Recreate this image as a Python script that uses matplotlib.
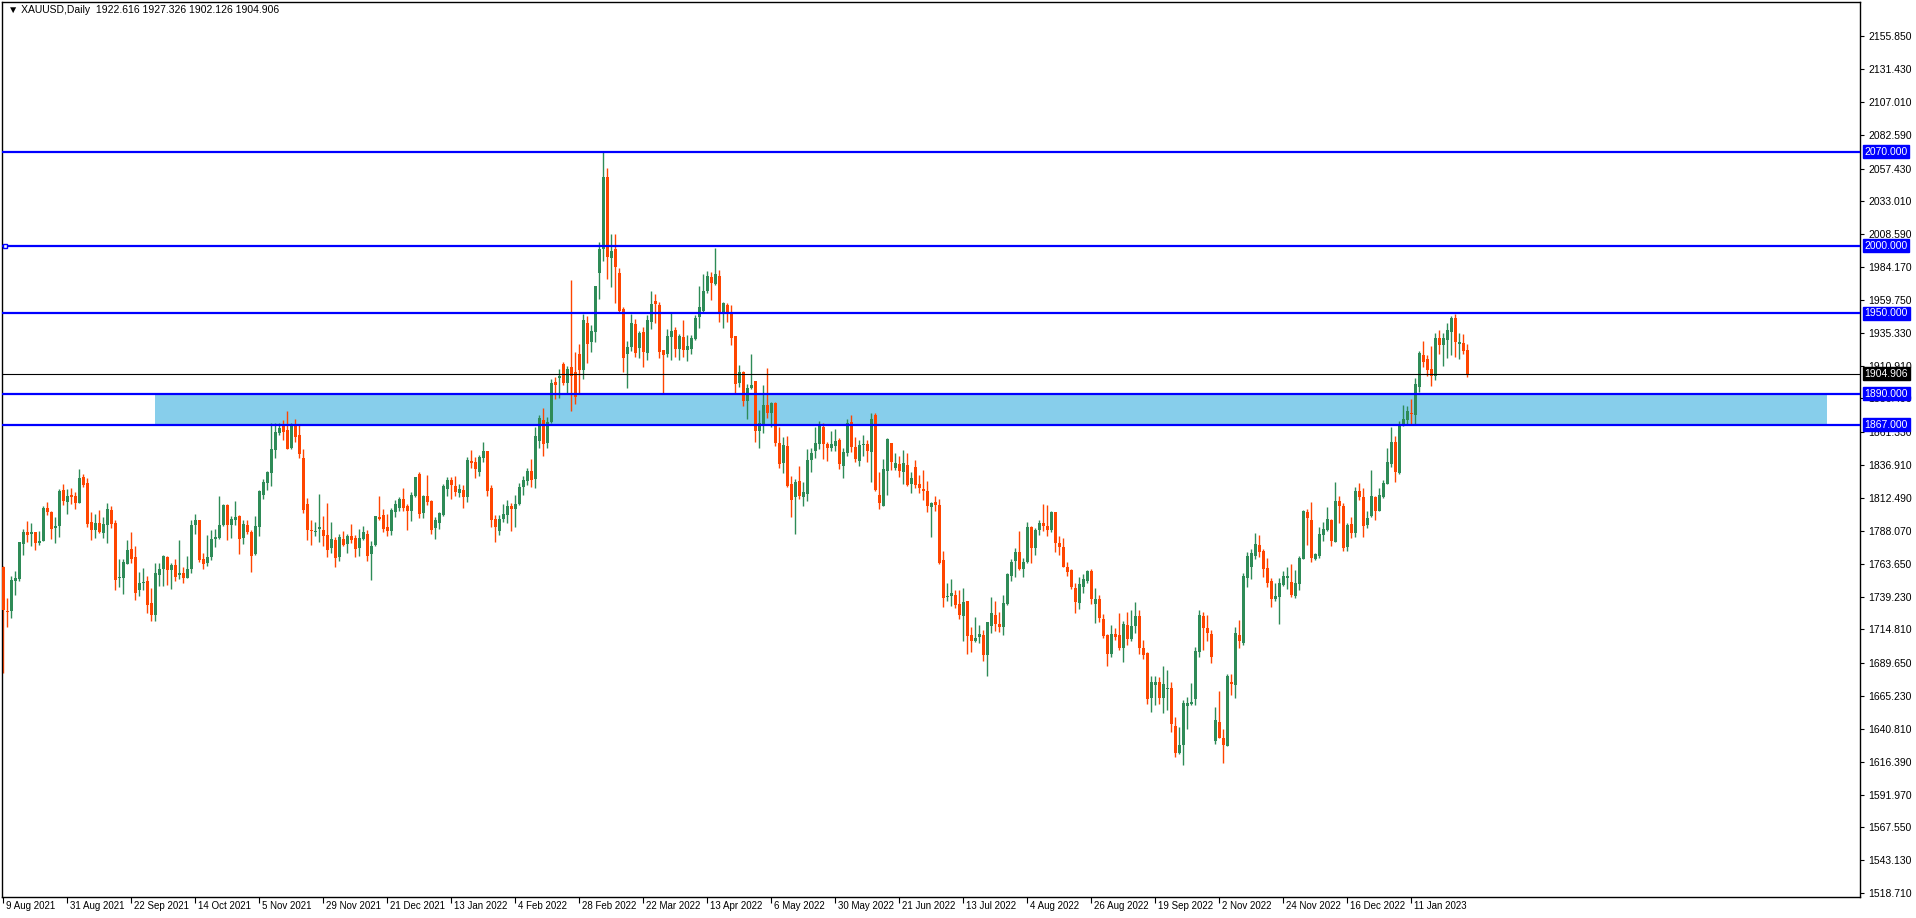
import matplotlib
matplotlib.use("Agg")
import matplotlib.pyplot as plt
from matplotlib.transforms import blended_transform_factory
from matplotlib.patches import Rectangle
import numpy as np

# ---------------- data ----------------
title = "\u25BC XAUUSD,Daily  1922.616 1927.326 1902.126 1904.906"

opens = [
 1761.4,1728.4,1728.7,1751.0,1752.5,1778.5,1787.2,1786.0,1787.2,1779.3,
 1780.7,1805.0,1802.1,1790.4,1791.7,1818.4,1809.8,1814.7,1814.0,1809.0,
 1828.1,1823.6,1794.6,1788.9,1793.9,1786.7,1792.7,1803.6,1793.9,1753.2,
 1753.2,1763.6,1774.5,1768.6,1744.3,1749.3,1750.8,1734.4,1725.7,1755.5,
 1759.7,1768.6,1759.0,1762.7,1755.5,1756.7,1753.2,1759.7,1792.4,1796.1,
 1767.1,1764.4,1768.6,1782.0,1782.7,1792.4,1807.2,1792.4,1796.1,1799.1,
 1782.7,1792.4,1787.2,1770.8,1790.9,1814.7,1823.6,1831.0,1848.1,1860.8,
 1866.7,1863.0,1849.6,1866.7,1859.3,1842.2,1808.0,1788.7,1787.2,1789.4,
 1788.7,1784.9,1775.3,1781.2,1768.6,1782.0,1778.2,1784.2,1782.7,1775.3,
 1782.0,1785.7,1770.8,1777.5,1798.3,1799.8,1790.9,1788.2,1802.0,1805.0,
 1811.7,1806.5,1802.8,1813.9,1830.3,1801.3,1813.9,1810.2,1790.1,1793.9,
 1799.8,1819.1,1825.8,1821.4,1816.2,1818.4,1813.2,1840.0,1839.2,1831.8,
 1842.2,1847.4,1819.9,1796.8,1787.9,1796.8,1799.8,1806.5,1804.3,1808.0,
 1820.6,1825.1,1832.5,1826.6,1854.8,1870.5,1853.4,1869.0,1898.7,1901.7,
 1912.1,1898.0,1909.9,1906.2,1919.6,1907.7,1942.6,1928.5,1936.2,1980.1,
 1997.7,2051.0,1991.2,1997.7,1979.8,1953.0,1919.8,1925.0,1941.9,1924.3,
 1935.9,1920.6,1943.6,1959.0,1956.0,1922.6,1919.8,1932.5,1937.4,1923.5,
 1932.2,1922.8,1923.5,1931.0,1947.3,1951.8,1966.7,1976.8,1971.6,1977.6,
 1950.3,1956.0,1950.1,1933.0,1898.3,1906.2,1884.9,1894.5,1899.5,1862.6,
 1867.0,1881.9,1876.0,1883.0,1853.4,1838.8,1851.2,1822.9,1813.5,1825.1,
 1813.5,1815.7,1840.8,1847.4,1852.7,1865.3,1852.7,1849.7,1851.2,1855.6,
 1836.5,1846.2,1869.0,1850.4,1840.0,1852.2,1852.7,1846.7,1874.0,1814.7,
 1806.8,1832.8,1853.4,1834.8,1837.8,1832.1,1837.0,1823.2,1835.5,1822.9,
 1819.2,1817.7,1806.0,1809.8,1807.3,1766.4,1739.1,1739.9,1740.4,1733.7,
 1725.0,1735.9,1710.6,1706.4,1709.4,1710.6,1696.0,1717.6,1725.5,1718.8,
 1716.8,1733.7,1754.5,1766.0,1772.0,1760.0,1765.0,1791.0,1775.0,1789.0,
 1794.0,1792.0,1789.0,1802.0,1779.0,1776.0,1761.0,1758.9,1745.6,1734.7,
 1746.6,1751.0,1758.2,1733.9,1737.4,1722.5,1710.6,1696.7,1711.4,1710.6,
 1701.2,1718.1,1707.9,1717.6,1724.7,1701.2,1697.2,1663.8,1673.4,1675.7,
 1663.8,1670.5,1671.2,1643.0,1622.9,1628.8,1657.8,1659.3,1663.0,1698.0,
 1724.8,1715.8,1711.4,1631.8,1645.9,1634.0,1628.1,1675.7,1673.4,1710.6,
 1704.7,1753.0,1761.2,1769.4,1777.6,1773.1,1760.5,1750.8,1737.4,1738.9,
 1747.8,1753.0,1750.0,1739.6,1748.6,1767.1,1802.1,1796.2,1767.1,1769.4,
 1785.0,1788.7,1796.1,1780.0,1810.2,1806.5,1776.3,1793.1,1786.7,1817.7,
 1813.2,1792.6,1799.3,1813.2,1803.0,1813.4,1823.1,1838.0,1854.1,1831.3,
 1867.5,1870.7,1875.7,1874.4,1895.2,1918.8,1915.8,1908.4,1903.4,1931.4,
 1926.5,1930.2,1936.1,1946.3,1927.2,1927.7,1922.616,
]
highs = [
 1761.9,1738.4,1754.7,1758.4,1779.8,1789.7,1795.6,1793.9,1787.2,1788.0,
 1806.3,1809.5,1802.8,1798.4,1819.2,1822.9,1819.2,1819.9,1816.9,1834.0,
 1830.3,1827.6,1802.1,1800.6,1803.6,1798.4,1808.8,1806.5,1796.1,1767.1,
 1767.1,1781.2,1787.2,1776.8,1757.4,1760.4,1754.5,1745.6,1764.1,1764.1,
 1770.1,1769.3,1764.1,1767.1,1781.2,1761.2,1769.3,1796.1,1800.3,1796.1,
 1771.5,1784.9,1788.7,1789.4,1813.9,1808.0,1808.0,1799.1,1810.2,1800.0,
 1796.1,1796.1,1788.7,1799.1,1818.4,1826.6,1832.5,1868.2,1868.2,1868.2,
 1870.5,1877.1,1868.2,1871.2,1866.7,1848.9,1812.4,1796.1,1794.6,1815.4,
 1799.1,1808.7,1794.6,1783.5,1785.7,1787.9,1785.7,1793.1,1784.9,1789.4,
 1791.6,1788.7,1780.5,1799.1,1813.9,1804.3,1800.6,1805.0,1811.0,1813.2,
 1819.9,1808.0,1816.9,1828.1,1831.8,1814.7,1829.6,1811.0,1798.3,1802.0,
 1822.9,1828.1,1828.1,1828.8,1822.9,1822.1,1842.9,1848.2,1842.9,1844.4,
 1854.1,1847.4,1822.1,1799.8,1799.8,1808.0,1811.0,1808.7,1814.7,1823.6,
 1828.8,1834.8,1841.5,1865.3,1874.2,1879.4,1872.7,1901.0,1902.4,1908.4,
 1913.6,1910.6,1974.6,1921.1,1927.0,1949.3,1947.8,1941.1,1970.2,2002.9,
 2070.0,2058.0,2008.8,2009.0,1983.5,1954.5,1929.2,1949.6,1945.6,1936.9,
 1939.9,1948.6,1966.4,1964.2,1958.3,1922.8,1938.2,1950.1,1939.9,1934.5,
 1944.9,1934.0,1933.7,1948.6,1970.2,1979.1,1981.3,1980.6,1998.4,1982.1,
 1958.3,1957.8,1956.0,1933.0,1911.4,1906.9,1897.3,1919.6,1899.5,1877.9,
 1896.8,1909.0,1884.0,1884.0,1865.3,1857.9,1858.6,1828.9,1826.4,1836.3,
 1824.4,1848.9,1849.7,1865.3,1869.8,1868.3,1854.1,1862.3,1863.8,1857.1,
 1849.7,1871.5,1874.0,1857.9,1855.6,1859.3,1855.6,1876.0,1876.0,1831.8,
 1841.5,1857.1,1853.4,1846.0,1843.7,1848.2,1846.0,1831.8,1840.8,1829.6,
 1833.3,1825.1,1809.8,1814.0,1811.7,1773.1,1749.5,1752.3,1744.1,1744.1,
 1745.6,1735.9,1716.6,1724.0,1718.1,1714.4,1720.3,1738.9,1735.9,1727.7,
 1740.4,1756.7,1767.0,1775.0,1788.0,1768.0,1795.0,1792.0,1790.0,1796.0,
 1808.0,1807.0,1803.0,1802.0,1784.0,1783.0,1765.0,1760.0,1749.3,1753.8,
 1756.0,1759.0,1759.5,1745.6,1740.4,1726.2,1711.4,1718.1,1715.8,1727.0,
 1721.0,1727.7,1729.2,1735.2,1729.2,1706.9,1698.0,1680.1,1680.1,1679.4,
 1687.6,1684.6,1675.7,1649.6,1642.2,1662.3,1664.5,1674.9,1701.7,1729.2,
 1727.7,1725.5,1714.3,1657.1,1669.0,1640.7,1681.6,1681.6,1716.6,1721.8,
 1756.7,1772.4,1774.6,1786.5,1785.0,1774.6,1767.9,1753.0,1749.3,1753.0,
 1758.2,1761.2,1763.4,1759.0,1769.4,1803.6,1804.3,1809.5,1771.6,1790.9,
 1794.7,1805.8,1796.8,1824.3,1813.9,1808.7,1793.9,1798.3,1820.6,1823.6,
 1819.9,1802.8,1833.3,1813.9,1819.9,1825.8,1849.6,1865.3,1858.6,1869.7,
 1881.6,1880.9,1886.3,1901.7,1921.8,1929.2,1918.8,1925.5,1935.2,1937.4,
 1935.2,1942.6,1947.8,1949.3,1935.2,1934.4,1927.326,
]
lows = [
 1682.6,1716.8,1723.5,1740.6,1751.0,1770.3,1780.0,1777.0,1774.1,1777.5,
 1780.7,1800.1,1782.2,1779.3,1783.7,1807.3,1800.8,1808.3,1804.5,1808.5,
 1820.9,1791.2,1781.5,1783.0,1786.7,1783.0,1779.3,1790.4,1744.3,1746.5,
 1741.3,1763.6,1764.4,1736.9,1739.9,1744.3,1727.2,1721.3,1721.3,1747.3,
 1747.3,1748.0,1745.0,1751.0,1752.5,1749.5,1753.2,1756.9,1785.7,1765.1,
 1759.7,1762.1,1766.3,1776.0,1782.0,1791.7,1781.2,1782.7,1792.4,1770.8,
 1778.2,1785.7,1757.4,1770.1,1784.2,1811.7,1818.4,1821.4,1842.2,1859.3,
 1855.6,1848.9,1848.9,1854.1,1842.2,1801.3,1781.2,1777.5,1784.2,1779.7,
 1776.7,1768.6,1771.5,1761.1,1765.6,1776.7,1771.5,1779.0,1768.6,1769.3,
 1781.2,1765.6,1751.5,1776.7,1796.1,1787.2,1784.4,1785.2,1798.3,1802.8,
 1802.8,1788.7,1795.4,1813.2,1797.6,1797.6,1807.2,1785.7,1782.0,1789.4,
 1799.1,1813.9,1811.7,1813.9,1813.2,1805.0,1809.5,1834.8,1827.3,1828.8,
 1839.2,1813.9,1790.9,1779.7,1784.9,1794.6,1793.9,1787.9,1790.9,1807.2,
 1814.7,1822.1,1820.6,1819.9,1849.6,1843.7,1849.6,1868.2,1886.1,1886.8,
 1896.5,1889.8,1877.4,1882.6,1889.8,1901.2,1913.1,1921.3,1928.8,1960.5,
 1989.0,1975.6,1969.7,1957.8,1950.3,1906.4,1894.5,1922.1,1917.6,1916.9,
 1910.2,1915.4,1938.4,1942.9,1916.9,1890.1,1917.6,1915.4,1917.6,1915.4,
 1917.6,1914.6,1919.8,1930.2,1939.2,1951.1,1965.2,1960.0,1970.9,1943.6,
 1939.2,1943.6,1926.5,1890.3,1895.3,1881.2,1871.5,1893.3,1854.4,1849.9,
 1861.1,1872.0,1865.5,1851.2,1835.1,1831.3,1820.9,1798.6,1786.0,1812.0,
 1806.8,1810.5,1832.1,1842.5,1848.9,1841.7,1840.0,1847.4,1847.4,1834.1,
 1827.6,1843.7,1846.9,1839.3,1836.5,1843.7,1839.3,1824.4,1818.0,1804.6,
 1806.8,1815.0,1833.6,1833.3,1828.4,1823.2,1821.4,1816.5,1820.2,1816.5,
 1811.0,1802.3,1783.7,1803.1,1763.7,1731.7,1736.1,1732.4,1731.0,1722.8,
 1706.4,1696.7,1698.0,1705.4,1704.7,1691.5,1680.4,1712.4,1713.8,1713.1,
 1710.8,1732.9,1750.8,1754.0,1759.0,1754.0,1764.0,1764.0,1770.0,1785.0,
 1788.0,1784.0,1787.0,1772.0,1770.0,1761.0,1754.7,1744.8,1727.2,1730.2,
 1742.1,1749.5,1733.9,1719.8,1720.5,1708.6,1687.8,1694.5,1707.1,1699.5,
 1690.8,1703.4,1706.4,1712.4,1696.7,1693.0,1659.3,1653.4,1658.6,1659.3,
 1652.6,1654.8,1638.5,1619.9,1622.1,1613.9,1640.7,1658.6,1658.6,1694.3,
 1699.5,1706.2,1689.8,1629.6,1634.0,1615.4,1628.1,1666.0,1663.8,1700.9,
 1703.2,1746.3,1752.3,1767.1,1768.6,1753.8,1746.3,1731.5,1735.9,1718.8,
 1747.1,1744.8,1738.9,1738.1,1744.1,1767.1,1777.6,1764.9,1766.4,1767.9,
 1780.5,1788.0,1777.0,1780.0,1794.1,1773.3,1773.3,1782.9,1783.7,1811.2,
 1783.7,1790.4,1798.6,1796.3,1803.0,1812.7,1823.1,1835.7,1824.6,1830.5,
 1866.0,1867.5,1867.5,1867.5,1891.5,1910.1,1903.4,1896.0,1900.5,1919.8,
 1910.9,1916.8,1919.0,1917.6,1916.1,1919.8,1902.126,
]
closes = [
 1729.2,1727.7,1751.5,1753.2,1779.8,1787.2,1785.0,1787.2,1779.3,1780.5,
 1805.0,1802.3,1789.7,1791.7,1817.7,1810.0,1814.0,1813.5,1809.0,1827.3,
 1822.2,1793.4,1788.9,1793.9,1787.4,1793.2,1804.3,1793.2,1751.7,1754.0,
 1764.9,1773.8,1767.4,1742.1,1749.3,1750.0,1733.2,1725.7,1756.7,1759.7,
 1769.3,1759.2,1762.7,1754.0,1756.7,1753.2,1759.7,1792.4,1796.1,1766.3,
 1763.4,1768.6,1782.0,1783.5,1792.4,1807.2,1792.4,1796.8,1798.3,1782.0,
 1793.1,1787.2,1769.3,1791.6,1817.6,1824.3,1831.8,1848.9,1861.5,1864.5,
 1861.5,1848.9,1866.0,1857.8,1845.2,1803.5,1788.7,1787.9,1787.9,1790.9,
 1784.2,1773.8,1782.0,1767.8,1783.5,1777.5,1784.2,1781.2,1774.5,1782.7,
 1787.2,1769.3,1776.7,1799.1,1796.8,1789.4,1787.9,1803.5,1808.0,1811.7,
 1805.0,1802.8,1814.7,1828.1,1800.6,1813.9,1809.5,1788.7,1796.1,1801.3,
 1821.4,1825.8,1822.1,1816.9,1819.1,1813.2,1840.7,1838.5,1834.0,1842.9,
 1847.4,1817.7,1796.1,1790.9,1796.8,1800.6,1806.5,1804.3,1808.0,1820.6,
 1825.8,1832.5,1825.8,1858.6,1872.0,1852.6,1869.0,1898.0,1896.5,1903.2,
 1898.0,1908.4,1903.5,1887.8,1907.7,1944.9,1927.3,1936.7,1970.2,1997.7,
 2051.0,1992.0,1996.2,1984.5,1951.3,1916.9,1924.8,1942.6,1920.6,1935.2,
 1921.3,1944.9,1956.8,1957.0,1921.3,1919.1,1933.0,1936.7,1923.5,1933.0,
 1922.8,1925.5,1931.5,1946.4,1954.5,1966.4,1977.6,1972.6,1979.1,1949.1,
 1957.5,1950.6,1931.7,1897.5,1906.2,1884.9,1894.3,1896.5,1862.6,1868.5,
 1881.9,1876.0,1883.0,1853.6,1838.0,1851.9,1821.4,1811.3,1824.4,1814.2,
 1817.0,1840.8,1846.0,1853.4,1867.0,1852.7,1849.9,1852.7,1854.9,1837.8,
 1846.7,1868.3,1850.4,1841.5,1851.9,1852.7,1847.4,1871.5,1818.7,1808.8,
 1834.1,1856.4,1839.3,1838.5,1832.6,1838.5,1822.2,1827.4,1822.2,1820.2,
 1817.9,1806.8,1808.8,1807.5,1764.4,1738.4,1739.9,1742.1,1733.2,1725.7,
 1735.2,1710.1,1706.4,1708.4,1711.4,1696.0,1720.3,1727.0,1719.0,1716.8,
 1734.4,1756.0,1765.0,1772.0,1760.0,1765.0,1791.0,1775.0,1789.0,1794.0,
 1792.0,1789.0,1802.0,1779.0,1776.0,1761.0,1757.5,1746.3,1735.2,1748.6,
 1752.3,1758.2,1737.4,1737.4,1723.5,1710.1,1696.7,1711.4,1709.4,1701.2,
 1718.8,1707.9,1717.3,1724.7,1701.2,1696.0,1663.0,1675.7,1675.7,1663.8,
 1674.2,1671.2,1644.4,1622.9,1628.8,1660.1,1660.1,1660.8,1698.7,1725.5,
 1715.8,1712.1,1694.3,1647.4,1634.0,1628.8,1680.1,1674.2,1712.1,1706.2,
 1754.5,1769.4,1771.6,1778.3,1772.4,1759.7,1749.3,1737.4,1739.6,1749.3,
 1754.5,1754.5,1740.4,1749.3,1767.9,1802.8,1797.6,1767.9,1770.9,1785.7,
 1789.5,1796.9,1780.7,1810.2,1806.7,1775.5,1792.4,1786.7,1817.7,1813.4,
 1791.9,1797.6,1813.9,1803.0,1814.7,1823.6,1839.2,1854.1,1832.0,1866.7,
 1871.2,1877.1,1875.2,1897.2,1920.3,1913.8,1907.9,1903.4,1931.4,1926.5,
 1931.4,1937.4,1946.3,1928.7,1928.5,1922.0,1904.906,
]

date_labels = ["9 Aug 2021", "31 Aug 2021", "22 Sep 2021", "14 Oct 2021", "5 Nov 2021",
               "29 Nov 2021", "21 Dec 2021", "13 Jan 2022", "4 Feb 2022", "28 Feb 2022",
               "22 Mar 2022", "13 Apr 2022", "6 May 2022", "30 May 2022", "21 Jun 2022",
               "13 Jul 2022", "4 Aug 2022", "26 Aug 2022", "19 Sep 2022", "2 Nov 2022",
               "24 Nov 2022", "16 Dec 2022", "11 Jan 2023"]
label_step = 16

price_ticks = [2155.850, 2131.430, 2107.010, 2082.590, 2057.430, 2033.010, 2008.590,
               1984.170, 1959.750, 1935.330, 1910.910, 1886.490, 1861.330, 1836.910,
               1812.490, 1788.070, 1763.650, 1739.230, 1714.810, 1689.650, 1665.230,
               1640.810, 1616.390, 1591.970, 1567.550, 1543.130, 1518.710]

blue_levels = [2070.0, 2000.0, 1950.0, 1890.0, 1867.0]
current_price = 1904.906
zone_low, zone_high = 1867.0, 1890.0
zone_start_bar, zone_end_bar = 38, 456

# ---------------- figure ----------------
W, H = 1916, 918
fig = plt.figure(figsize=(W / 100, H / 100), dpi=100)
fig.patch.set_facecolor("white")
L_PX, R_PX, T_PX, B_PX = 2, 1860, 2, 897
ax = fig.add_axes([L_PX / W, (H - B_PX) / H, (R_PX - L_PX) / W, (B_PX - T_PX) / H])
ax.set_facecolor("white")

x0_px, pitch = 3.3, 4.0
ax.set_xlim((L_PX - x0_px) / pitch, (R_PX - x0_px) / pitch)
ax.set_ylim(1515.8, 2181.3)

FONT = ["Liberation Sans", "DejaVu Sans"]
GREEN = "#2E8B57"
RED = "#FF4500"
BLUE = "#0000FF"

o = np.array(opens); h = np.array(highs); l = np.array(lows); c = np.array(closes)
n = len(o)
x = np.arange(n)
up = c >= o
cols = np.where(up, GREEN, RED)

# zone rectangle
ax.add_patch(Rectangle((zone_start_bar, zone_low), zone_end_bar - zone_start_bar,
                       zone_high - zone_low, facecolor="#87CEEB", edgecolor="none", zorder=1))

# candles
ax.vlines(x, l, h, colors=cols, linewidth=1.0, zorder=2)
body_bottom = np.minimum(o, c)
body_h = np.maximum(np.abs(c - o), 0.7)
ax.bar(x, body_h, bottom=body_bottom, width=0.75, color=cols, linewidth=0, zorder=3)

# horizontal lines
for lv in blue_levels:
    ax.axhline(lv, color=BLUE, linewidth=1.6, zorder=4)
ax.axhline(current_price, color="black", linewidth=0.8, zorder=4)
# handle on the 2000 line
ax.plot([0.3], [2000.0], marker="s", markersize=3.5, markerfacecolor="white",
        markeredgecolor=BLUE, markeredgewidth=1, zorder=5, clip_on=False)

# axes styling
for side in ["left", "right", "top", "bottom"]:
    ax.spines[side].set_linewidth(1.0)
    ax.spines[side].set_color("black")

ax.yaxis.tick_right()
ax.set_yticks(price_ticks)
ax.set_yticklabels([f"{t:.3f}" for t in price_ticks], fontsize=7.5, family=FONT)
ax.tick_params(axis="y", direction="out", length=3, width=0.8, pad=3, colors="black")

ticks_x = [i * label_step for i in range(len(date_labels))]
ax.set_xticks(ticks_x)
ax.set_xticklabels([])
ax.tick_params(axis="x", direction="out", length=4, width=0.8)
xtr = blended_transform_factory(ax.transData, ax.transAxes)
for tx, lab in zip(ticks_x, date_labels):
    ax.text(tx + 0.6, -0.004, lab, transform=xtr, ha="left", va="top",
            fontsize=7, family=FONT, color="black")

# right-side level labels
ytr = blended_transform_factory(ax.transAxes, ax.transData)
for lv in blue_levels:
    ax.text(1.0025, lv, f"{lv:.3f}", transform=ytr, ha="left", va="center",
            fontsize=7.5, family=FONT, color="white", zorder=10, clip_on=False,
            bbox=dict(boxstyle="square,pad=0.15", facecolor=BLUE, edgecolor=BLUE))
ax.text(1.0025, current_price, f"{current_price:.3f}", transform=ytr, ha="left", va="center",
        fontsize=7.5, family=FONT, color="white", zorder=10, clip_on=False,
        bbox=dict(boxstyle="square,pad=0.15", facecolor="black", edgecolor="black"))

# title
ax.text(0.003, 0.997, title, transform=ax.transAxes, ha="left", va="top",
        fontsize=7.5, family=FONT, color="black", zorder=10)

fig.savefig("out.png", dpi=100, facecolor="white")
